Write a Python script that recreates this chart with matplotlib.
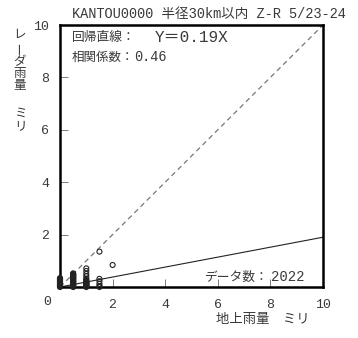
import matplotlib
matplotlib.use("Agg")
import matplotlib.pyplot as plt

# ---- data ----
col0_y = [0.0, 0.02, 0.04, 0.06, 0.08, 0.10, 0.12, 0.14, 0.16, 0.18, 0.20,
          0.22, 0.24, 0.26, 0.28, 0.30, 0.32, 0.34]
col05_y = [0.0, 0.02, 0.04, 0.06, 0.08, 0.10, 0.12, 0.14, 0.16, 0.18, 0.20,
           0.22, 0.24, 0.26, 0.28, 0.30, 0.32, 0.34, 0.36, 0.38, 0.40,
           0.42, 0.44, 0.46, 0.48, 0.50, 0.52]
col1_y = [0.0, 0.02, 0.04, 0.06, 0.08, 0.10, 0.12, 0.14, 0.16, 0.18, 0.20,
          0.23, 0.27, 0.32, 0.41, 0.50, 0.61, 0.71]
col15_y = [0.0, 0.04, 0.12, 0.22, 0.31, 1.35]
col2_y = [0.84]
ground_x = [0.0]*len(col0_y) + [0.5]*len(col05_y) + [1.0]*len(col1_y) \
    + [1.5]*len(col15_y) + [2.0]*len(col2_y)
radar_y = col0_y + col05_y + col1_y + col15_y + col2_y
slope = 0.19
corr = 0.46
count = 2022
xticks = [2, 4, 6, 8, 10]
yticks = [2, 4, 6, 8, 10]
title = "KANTOU0000 半径30km以内 Z-R 5/23-24"

FAM = ["Liberation Mono", "Noto Sans CJK JP"]
JFAM = ["Noto Sans CJK JP", "Liberation Mono"]
TC = "#3a3a3a"

fig = plt.figure(figsize=(3.58, 3.38), dpi=100)
ax = fig.add_axes([60/358, 51/338, 263/358, 262/338])
ax.set_xlim(0, 10)
ax.set_ylim(0, 10)

ax.plot([0, 10], [0, 10], color="#777777", lw=0.9, ls=(0, (4, 3)))
ax.plot([0, 10], [0, slope*10], color="#222222", lw=0.8)
ax.scatter(ground_x, radar_y, s=13, facecolors="none", edgecolors="#222222",
           linewidths=0.8, zorder=3, clip_on=False)

for s in ax.spines.values():
    s.set_linewidth(1.8)
    s.set_color("black")

ax.set_xticks(xticks)
ax.set_yticks(yticks)
ax.tick_params(direction="in", length=6, width=0.6, color="#666666",
               labelsize=9.5, labelcolor=TC)
ax.tick_params(axis="x", pad=9)
ax.tick_params(axis="y", pad=8)
for lab in ax.get_xticklabels() + ax.get_yticklabels():
    lab.set_family(FAM)

fig.text(47/358, 1 - 302/338, "0", ha="center", va="center", fontsize=9.5,
         color=TC, family=FAM)

fig.text(72/358, 1 - 14/338, title, ha="left", va="center", fontsize=9.8,
         color=TC, family=FAM)

ax.text(12/263, (287-38)/262, "回帰直線：", transform=ax.transAxes,
        ha="left", va="center", fontsize=9.2, color=TC, family=JFAM)
ax.text(95/263, (287-38)/262, "Y＝" + f"{slope:.2f}" + "X", transform=ax.transAxes,
        ha="left", va="center", fontsize=11.5, color=TC, family=FAM)
ax.text(12/263, (287-57)/262, "相関係数：", transform=ax.transAxes,
        ha="left", va="center", fontsize=9.0, color=TC, family=JFAM)
ax.text(74/263, (287-57)/262, f"{corr:.2f}", transform=ax.transAxes,
        ha="left", va="center", fontsize=9.8, color=TC, family=FAM)
ax.text(145/263, (287-277)/262, "データ数：", transform=ax.transAxes,
        ha="left", va="center", fontsize=9.2, color=TC, family=JFAM)
ax.text(244/263, (287-277)/262, str(count), transform=ax.transAxes,
        ha="right", va="center", fontsize=10, color=TC, family=FAM)

fig.text(263/358, 1 - 319/338, "地上雨量　ミリ", ha="center", va="center",
         fontsize=9.6, color=TC, family=JFAM)

ylab_chars = ["レ", "ー", "ダ", "雨", "量", "ミ", "リ"]
ypos = [34, 48, 62, 74, 86, 113, 127]
for ch, yp in zip(ylab_chars, ypos):
    rot = 90 if ch == "ー" else 0
    fig.text(20/358, 1 - yp/338, ch, ha="center", va="center", fontsize=9,
             color=TC, family=JFAM, rotation=rot)

fig.savefig("out.png", dpi=100)
